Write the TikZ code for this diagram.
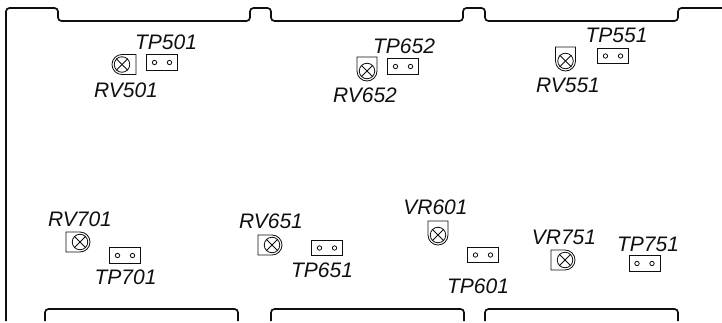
\documentclass[tikz,border=0pt]{standalone}
\usepackage{fontspec}
\setmainfont{Liberation Sans}
\usetikzlibrary{calc, positioning}
\definecolor{BoardLine}{RGB}{15, 15, 15}

\begin{document}
\begin{tikzpicture}[x=1pt, y=1pt,
    boardline/.style={BoardLine, line width=1.7pt, rounded corners=3.5pt},
    partline/.style={BoardLine, line width=0.8pt},
    tpbox/.style={rectangle, draw=BoardLine, line width=0.8pt, minimum width=31pt, minimum height=15.5pt, inner sep=0pt},
    tphole/.style={circle, draw=BoardLine, line width=0.8pt, minimum size=4.4pt, inner sep=0pt},
    knob/.style={circle, draw=BoardLine, line width=0.8pt, minimum size=15.5pt, inner sep=0pt},
    partlabel/.style={font=\fontsize{21}{21}\selectfont\itshape, text=BoardLine, inner sep=0pt}]
    % Fixed page size
    \path[use as bounding box] (0,0) rectangle (722,322);

    % Board outline, top edge with notches
    \draw[boardline] (6,1) -- (6,314) -- (58,314) -- (58,301) -- (250,301) -- (250,314)
        -- (271,314) -- (271,301) -- (463,301) -- (463,314) -- (485,314) -- (485,301)
        -- (678,301) -- (678,314) -- (722,314);

    % Cut-outs along the bottom edge
    \foreach \xa/\xb in {45/238, 271/464, 485/678} {
        \draw[boardline] (\xa,1) -- (\xa,13) -- (\xb,13) -- (\xb,1);
    }

    % Test points
    \foreach \name/\x/\y/\lx/\ly in {501/162/259.5/166/280, 652/403/255.5/404/276,
        551/613/266/616.5/287, 701/125/66.5/125.5/44.5, 651/327/74/322/52,
        601/483/67/478/36, 751/644.5/58.5/648/77.5} {
        \node[tpbox] (tp\name) at (\x,\y) {};
        \node[tphole] (tp\name a) at ($(tp\name)+(-7.5,0)$) {};
        \node[tphole] (tp\name b) at ($(tp\name)+(7.5,0)$) {};
        \node[partlabel] (tp\name label) at (\lx,\ly) {TP\name};
    }

    % Adjusters, the flat side of the case set by the angle
    \foreach \name/\x/\y/\ang/\lx/\ly in {RV501/122/257.5/-90/126/231.5, RV652/367/251/0/365/227,
        RV551/565.5/261/0/568/237, RV701/80/80/90/80/103, RV651/272/77/90/271/101,
        VR601/438/87/0/435.5/114.5, VR751/565/62/90/564/84.5} {
        \draw[partline, shift={(\x,\y)}, rotate=\ang] (-10,14) -- (10,14) -- (10,0)
            arc (0:-180:10) -- cycle;
        \node[knob] (\name) at (\x,\y) {};
        \draw[partline] (\name.45) -- (\name.225);
        \draw[partline] (\name.135) -- (\name.315);
        \node[partlabel] (\name label) at (\lx,\ly) {\name};
    }
\end{tikzpicture}
\end{document}
